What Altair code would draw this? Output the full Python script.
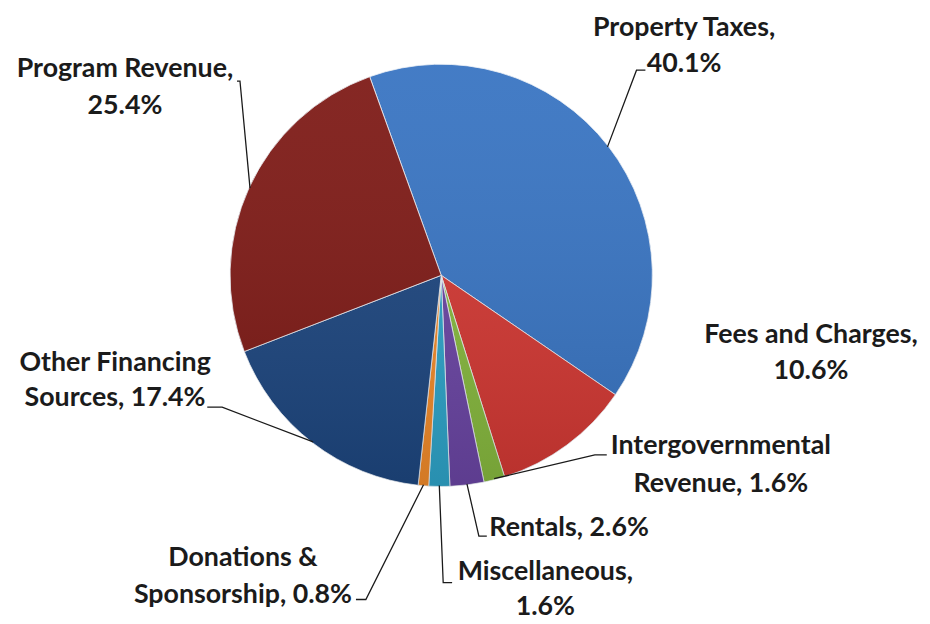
import math
import altair as alt
import pandas as pd

# ---- data ----
categories = [
    "Property Taxes",
    "Fees and Charges",
    "Intergovernmental Revenue",
    "Rentals",
    "Miscellaneous",
    "Donations & Sponsorship",
    "Other Financing Sources",
    "Program Revenue",
]
shares = [40.1, 10.6, 1.6, 2.6, 1.6, 0.8, 17.4, 25.4]
label_lines = [
    ["Property Taxes,", "40.1%"],
    ["Fees and Charges,", "10.6%"],
    ["Intergovernmental", "Revenue, 1.6%"],
    ["Rentals, 2.6%"],
    ["Miscellaneous,", "1.6%"],
    ["Donations &", "Sponsorship, 0.8%"],
    ["Other Financing", "Sources, 17.4%"],
    ["Program Revenue,", "25.4%"],
]

# ---- styling / layout ----
colors = ["#3874C2", "#D23833", "#86B83E", "#6A45A3", "#2EA3C8", "#F08A2A", "#1D467F", "#7E1A16"]
W, H = 922, 616
OFF = 8                      # page margin
CX, CY, R = 445 - OFF, 275 - OFF, 213
START = math.radians(-19.8)  # first slice angle
FONT = "Lato"
FSIZE = 27

# label anchor positions (page px): centre x, centre y of each line
label_pos = [
    (690, [26, 62]),
    (818, [335, 372]),
    (727, [447, 486]),
    (574, [530]),
    (550, [574, 610]),
    (245, [560, 598]),
    (116, [363, 399]),
    (126, [67, 104]),
]
# leader line elbow + end (page px); None = no leader
leader_pts = [
    [(642, 68), (651, 68)],
    None,
    [(600, 456), (612, 456)],
    [(483, 538), (491, 538)],
    [(447, 585), (456, 585)],
    [(369, 602), (359, 602)],
    [(224, 408), (209, 408)],
    [(242, 79), (239, 79)],
]

total = sum(shares)
df = pd.DataFrame({"category": categories, "share": shares, "idx": range(len(shares))})

rows = []
for cat, lines, (cx, ys) in zip(categories, label_lines, label_pos):
    for t, y in zip(lines, ys):
        rows.append({"category": cat, "text": t, "x": cx - OFF, "y": y - OFF})
df_text = pd.DataFrame(rows)

lead_rows = []
cum = 0.0
for cat, s, pts in zip(categories, shares, leader_pts):
    mid = START + 2 * math.pi * (cum + s / 2) / total
    cum += s
    if pts is None:
        continue
    lead_rows.append({"category": cat, "seq": 0,
                      "x": CX + (R - 1) * math.sin(mid), "y": CY - (R - 1) * math.cos(mid)})
    for k, (px, py) in enumerate(pts):
        lead_rows.append({"category": cat, "seq": k + 1, "x": px - OFF, "y": py - OFF})
df_lead = pd.DataFrame(lead_rows)

pie = alt.Chart(df).mark_arc(outerRadius=R, stroke="#eef2f7", strokeWidth=0.8).encode(
    theta=alt.Theta("share:Q", stack=True,
                    scale=alt.Scale(domain=[0, total], range=[START, START + 2 * math.pi])),
    color=alt.Color("category:N", scale=alt.Scale(domain=categories, range=colors), legend=None),
    order=alt.Order("idx:Q"),
    x=alt.value(CX),
    y=alt.value(CY),
)

shade = alt.Chart(df).mark_arc(
    outerRadius=R, theta=0, theta2=2 * math.pi,
    fill=alt.Gradient(
        gradient="linear", x1=0, y1=0, x2=0, y2=1,
        stops=[alt.GradientStop(color="rgba(255,255,255,0.06)", offset=0),
               alt.GradientStop(color="rgba(0,0,0,0.12)", offset=1)],
    ),
).encode(x=alt.value(CX), y=alt.value(CY)).transform_filter("datum.idx == 0")

leaders = alt.Chart(df_lead).mark_line(color="#1a1a1a", strokeWidth=1.3).encode(
    x=alt.X("x:Q", scale=None, axis=None),
    y=alt.Y("y:Q", scale=None, axis=None),
    detail="category:N",
    order="seq:Q",
)

labels = alt.Chart(df_text).mark_text(
    font=FONT, fontWeight="bold", fontSize=FSIZE, color="#1b1b1b",
    align="center", baseline="middle",
).encode(
    x=alt.X("x:Q", scale=None, axis=None),
    y=alt.Y("y:Q", scale=None, axis=None),
    text="text:N",
)

chart = alt.layer(pie, shade, leaders, labels).properties(
    width=W, height=H, padding=0, autosize="none", background="white"
).configure_view(stroke=None)

chart.save("out.html", embed_options={"renderer": "svg", "actions": False})
